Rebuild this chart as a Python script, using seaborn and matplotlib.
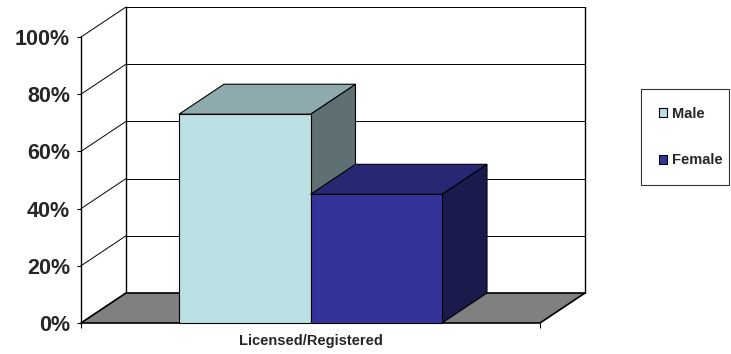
import matplotlib
matplotlib.use("Agg")
import matplotlib.pyplot as plt
from matplotlib.patches import Polygon, Patch
import seaborn as sns
import pandas as pd
import numpy as np

# ---- data ----
categories = ["Licensed/Registered"]
series = ["Male", "Female"]
male_values = [0.73]
female_values = [0.45]
y_ticks = [0, 0.2, 0.4, 0.6, 0.8, 1.0]
y_tick_labels = ["0%", "20%", "40%", "60%", "80%", "100%"]

front_colors = ["#BBE0E3", "#333399"]

df = pd.DataFrame({
    "category": categories * 2,
    "sex": ["Male"] * len(categories) + ["Female"] * len(categories),
    "value": male_values + female_values,
})

sns.set_theme(style="white")
plt.rcParams["font.family"] = ["Liberation Sans", "DejaVu Sans"]
plt.rcParams["font.weight"] = "bold"

W, H = 731, 354
fig = plt.figure(figsize=(W / 100, H / 100), dpi=100)
fig.patch.set_facecolor("white")
ax = fig.add_axes([81 / W, (H - 323) / H, (540 - 81) / W, 286 / H])
ax.set_facecolor("none")

sns.barplot(data=df, x="category", y="value", hue="sex", hue_order=series,
            palette=front_colors, saturation=1, width=0.573,
            edgecolor="black", linewidth=0.8, legend=False, ax=ax)

ax.set_xlim(-0.5, 0.5)
ax.set_ylim(0, 1)
# depth offset (in data units): 45 px right, 30 px up
ddx = 45 / 459 * 1.0
ddy = 30 / 286 * 1.0
x_lo, x_hi = ax.get_xlim()

# back wall gridlines and left wall diagonals
for v in y_ticks:
    if v > 0:
        ax.plot([x_lo + ddx, x_hi + ddx], [v + ddy, v + ddy], color="black",
                lw=0.7, zorder=0.3, clip_on=False)
    ax.plot([x_lo, x_lo + ddx], [v, v + ddy], color="black", lw=0.7,
            zorder=0.3, clip_on=False)
# back wall left and right edges
ax.plot([x_lo + ddx, x_lo + ddx], [ddy, 1 + ddy], color="black", lw=1.0,
        zorder=0.3, clip_on=False)
ax.plot([x_hi + ddx, x_hi + ddx], [ddy, 1 + ddy], color="black", lw=1.0,
        zorder=0.3, clip_on=False)

# floor
floor = Polygon([(x_lo, 0), (x_hi, 0), (x_hi + ddx, ddy), (x_lo + ddx, ddy)],
                closed=True, facecolor="#808080", edgecolor="black", lw=1.2,
                zorder=0.5, clip_on=False)
ax.add_patch(floor)

# 3D faces for bars
def shade(c, f):
    r, g, b = matplotlib.colors.to_rgb(c)
    return (r * f, g * f, b * f)

bars = [p for p in ax.patches if isinstance(p, matplotlib.patches.Rectangle)
        and p is not floor]
bars = sorted(bars, key=lambda p: p.get_x())
for i, p in enumerate(bars):
    x0 = p.get_x()
    x1 = x0 + p.get_width()
    h = p.get_height()
    fc = p.get_facecolor()
    base = 1.5 + 3 * i
    top = Polygon([(x0, h), (x1, h), (x1 + ddx, h + ddy), (x0 + ddx, h + ddy)],
                  closed=True, facecolor=shade(fc, 0.76), edgecolor="black",
                  lw=0.8, zorder=base, clip_on=False)
    side = Polygon([(x1, 0), (x1, h), (x1 + ddx, h + ddy), (x1 + ddx, ddy)],
                   closed=True, facecolor=shade(fc, 0.5), edgecolor="black",
                   lw=0.8, zorder=base, clip_on=False)
    ax.add_patch(side)
    ax.add_patch(top)
    p.set_zorder(base + 0.5)
    p.set_clip_on(False)

# axes styling
for s in ["top", "right", "bottom"]:
    ax.spines[s].set_visible(False)
ax.spines["left"].set_color("black")
ax.spines["left"].set_linewidth(1.0)
ax.spines["left"].set_zorder(0.4)
ax.set_yticks(y_ticks)
ax.set_yticklabels(y_tick_labels, fontsize=15.5, fontweight="bold")
ax.tick_params(axis="y", direction="out", length=3, width=0.8, color="black",
               pad=5, left=True)
ax.set_xticks([0])
ax.set_xticklabels(categories, fontsize=10.5, fontweight="bold")
ax.tick_params(axis="x", which="major", length=0, pad=8)
ax.set_xticks([x_lo, x_hi], minor=True)
ax.tick_params(axis="x", which="minor", direction="out", length=3.5,
               width=0.8, color="black", bottom=True)
ax.set_xlabel("")
ax.set_ylabel("")
ax.grid(False)

# legend
handles = [Patch(facecolor=c, edgecolor="black", lw=0.8) for c in front_colors]
leg = fig.legend(handles, series, loc="upper left",
                 bbox_to_anchor=(641 / W, 1 - 89 / H, (729 - 641) / W, 0.0),
                 mode="expand", fontsize=10.5, frameon=True, fancybox=False,
                 shadow=False, borderpad=1.2, labelspacing=2.26,
                 handlelength=0.6, handleheight=0.6, handletextpad=0.3,
                 borderaxespad=0)
leg.get_frame().set_edgecolor("black")
leg.get_frame().set_linewidth(0.8)
for t in leg.get_texts():
    t.set_fontweight("bold")

fig.savefig("out.png", dpi=100)
